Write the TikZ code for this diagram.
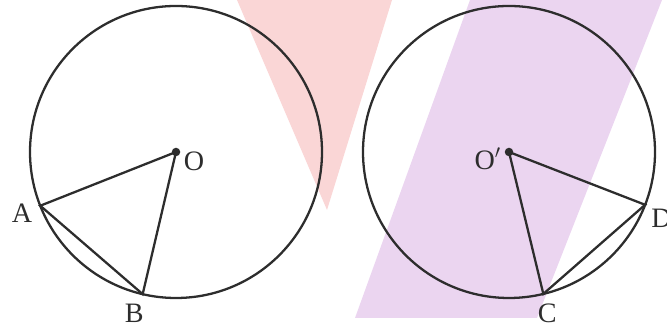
\documentclass[tikz,border=0pt]{standalone}
\usepackage{fontspec}
\setmainfont{Liberation Serif}
\definecolor{pinkbg}{RGB}{250,214,214}
\definecolor{purplebg}{RGB}{235,213,240}
\definecolor{inkgray}{RGB}{45,45,45}

\begin{document}
\begin{tikzpicture}[
    rim/.style={line width=1.3pt, inkgray},
    seg/.style={line width=1.3pt, inkgray, line cap=round},
    lbl/.style={font=\fontsize{16}{18}\selectfont, text=inkgray},
    dot/.style={circle, fill=inkgray, inner sep=0pt, minimum size=0.17cm}
  ]
    \useasboundingbox (0,0) rectangle (13.34,6.56);

    % Background shapes
    \fill[pinkbg] (4.74,6.56) -- (7.84,6.56) -- (6.54,2.36) -- cycle;
    \fill[purplebg] (9.40,6.56) -- (13.24,6.56) -- (10.74,0.2) -- (7.10,0.2) -- cycle;

    % Left: circle with centre O
    \coordinate (O) at (3.52,3.52);
    \draw[rim] (O) circle (2.92cm);
    \coordinate (A) at ([shift={(201.6:2.92)}]O);
    \coordinate (B) at ([shift={(256.8:2.92)}]O);
    \draw[seg] (A) -- (O) -- (B) -- cycle;
    \node[dot] (Odot) at (O) {};

    % Right: circle with centre O'
    \coordinate (Op) at (10.18,3.52);
    \draw[rim] (Op) circle (2.92cm);
    \coordinate (D) at ([shift={(-21.2:2.92)}]Op);
    \coordinate (C) at ([shift={(-76.4:2.92)}]Op);
    \draw[seg] (C) -- (Op) -- (D) -- cycle;
    \node[dot] (Opdot) at (Op) {};

    % Labels
    \node[lbl, left=1pt, yshift=-0.14cm] (labA) at (A) {A};
    \node[lbl, below=2pt, xshift=-0.17cm] (labB) at (B) {B};
    \node[lbl, right=1pt, yshift=-0.18cm] (labO) at (O) {O};
    \node[lbl, left=1pt, yshift=-0.14cm] (labOp) at (Op) {O$'$};
    \node[lbl, below=2pt, xshift=0.08cm] (labC) at (C) {C};
    \node[lbl, right=0pt, yshift=-0.27cm] (labD) at (D) {D};

  \end{tikzpicture}
\end{document}
